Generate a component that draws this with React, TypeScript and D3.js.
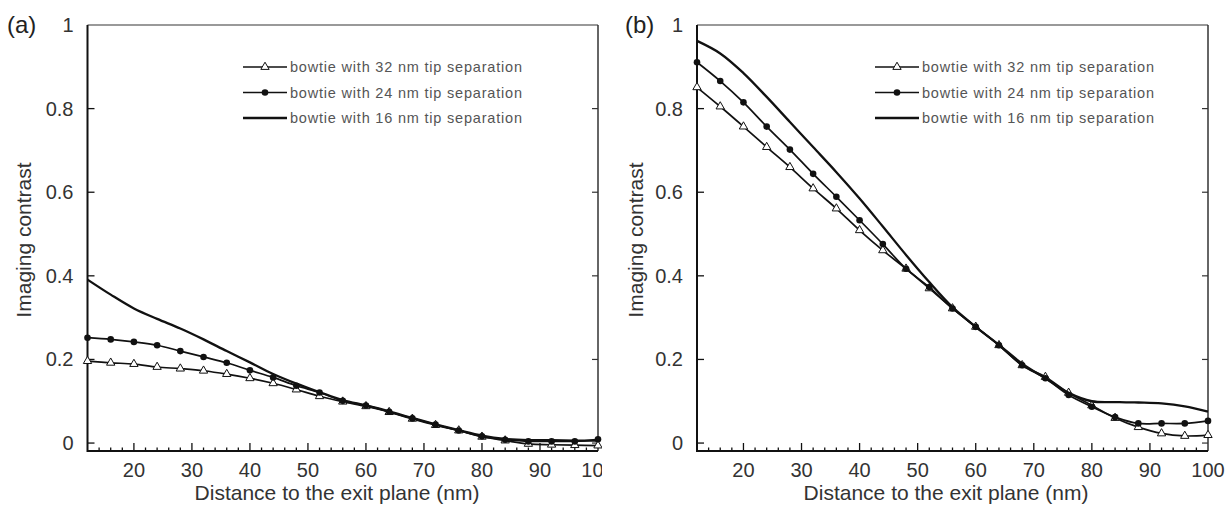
import * as d3 from "d3";
import React, { useEffect, useRef } from "react";

// distance to the exit plane (nm), one point every 4 nm
const distance = [12, 16, 20, 24, 28, 32, 36, 40, 44, 48, 52, 56, 60, 64, 68, 72, 76, 80, 84, 88, 92, 96, 100];

// panel (a)
const a32 = [0.196, 0.192, 0.189, 0.182, 0.178, 0.173, 0.165, 0.155, 0.143, 0.128, 0.112, 0.099, 0.088, 0.074, 0.058, 0.043, 0.030, 0.015, 0.006, -0.002, -0.004, -0.005, -0.006];
const a24 = [0.252, 0.248, 0.242, 0.234, 0.220, 0.206, 0.192, 0.174, 0.157, 0.137, 0.121, 0.101, 0.090, 0.075, 0.059, 0.044, 0.030, 0.016, 0.008, 0.004, 0.004, 0.004, 0.009];
const a16 = [0.391, 0.355, 0.322, 0.297, 0.274, 0.248, 0.220, 0.193, 0.165, 0.142, 0.122, 0.103, 0.090, 0.076, 0.060, 0.045, 0.031, 0.018, 0.010, 0.007, 0.007, 0.006, 0.006];

// panel (b)
const b32 = [0.851, 0.805, 0.757, 0.708, 0.660, 0.609, 0.561, 0.509, 0.461, 0.417, 0.370, 0.322, 0.278, 0.234, 0.186, 0.158, 0.120, 0.090, 0.060, 0.038, 0.023, 0.017, 0.019];
const b24 = [0.911, 0.866, 0.815, 0.757, 0.702, 0.644, 0.589, 0.533, 0.476, 0.417, 0.373, 0.322, 0.278, 0.234, 0.186, 0.155, 0.115, 0.087, 0.062, 0.047, 0.047, 0.047, 0.053];
const b16 = [0.962, 0.932, 0.885, 0.828, 0.768, 0.708, 0.648, 0.585, 0.518, 0.450, 0.385, 0.325, 0.278, 0.235, 0.190, 0.155, 0.120, 0.100, 0.098, 0.097, 0.095, 0.088, 0.075];

const seriesNames = [
  "bowtie with 32 nm tip separation",
  "bowtie with 24 nm tip separation",
  "bowtie with 16 nm tip separation",
];
const markers = ["triangle", "circle", "none"];

const xTicks = [20, 30, 40, 50, 60, 70, 80, 90, 100];
const yTicks = [0, 0.2, 0.4, 0.6, 0.8, 1];

const W = 1227;
const H = 505;
const font = "'Liberation Sans', Arial, sans-serif";

const panels = [
  { label: "(a)", labelX: 7, left: 87.5, right: 598, clipX: 0, clipW: 602, legendX: 243, yTitleX: 31, xTitleX: 337, series: [a32, a24, a16] },
  { label: "(b)", labelX: 625, left: 697, right: 1208, clipX: 604, clipW: W - 604, legendX: 875, yTitleX: 643, xTitleX: 946, series: [b32, b24, b16] },
];

const drawMarker = (g, type, x, y) => {
  if (type === "triangle") {
    g.append("path")
      .attr("d", d3.symbol(d3.symbolTriangle, 30)())
      .attr("transform", `translate(${x},${y})`)
      .attr("fill", "white")
      .attr("stroke", "#111")
      .attr("stroke-width", 1);
  } else if (type === "circle") {
    g.append("circle")
      .attr("cx", x).attr("cy", y).attr("r", 3.3)
      .attr("fill", "#111");
  }
};

const App = () => {
  const svgRef = useRef(null);

  useEffect(() => {
    const svg = d3.select(svgRef.current);
    svg.selectAll("*").remove();

    const top = 25;
    const bottom = 451;
    const yScale = d3.scaleLinear().domain([-0.019, 1]).range([bottom, top]);

    panels.forEach((p, pi) => {
      const clipId = `clip-${pi}`;
      svg.append("clipPath").attr("id", clipId)
        .append("rect").attr("x", p.clipX).attr("y", 0)
        .attr("width", p.clipW).attr("height", H);
      const g = svg.append("g").attr("clip-path", `url(#${clipId})`);

      const xScale = d3.scaleLinear().domain([12, 100]).range([p.left, p.right]);

      // frame
      g.append("line").attr("x1", p.left).attr("x2", p.right).attr("y1", top).attr("y2", top)
        .attr("stroke", "#777").attr("stroke-width", 1.5);
      g.append("line").attr("x1", p.right).attr("x2", p.right).attr("y1", top).attr("y2", bottom)
        .attr("stroke", "#333").attr("stroke-width", 1.5);
      g.append("line").attr("x1", p.left).attr("x2", p.left).attr("y1", top).attr("y2", bottom + 1)
        .attr("stroke", "#111").attr("stroke-width", 2);
      g.append("line").attr("x1", p.left).attr("x2", p.right).attr("y1", bottom).attr("y2", bottom)
        .attr("stroke", "#111").attr("stroke-width", 2);

      // y ticks (inside, both sides)
      yTicks.forEach(v => {
        const y = yScale(v);
        if (v < 1) {
          g.append("line").attr("x1", p.left).attr("x2", p.left + 7).attr("y1", y).attr("y2", y)
            .attr("stroke", "#111").attr("stroke-width", 1.3);
          g.append("line").attr("x1", p.right).attr("x2", p.right - 6).attr("y1", y).attr("y2", y)
            .attr("stroke", "#333").attr("stroke-width", 1.2);
        }
        g.append("text").attr("x", p.left - 14).attr("y", y).attr("dy", "0.35em")
          .attr("text-anchor", "end").attr("font-family", font).attr("font-size", 20)
          .attr("fill", "#333").text(String(v));
      });

      // x ticks: major every 10, minor every 2
      d3.range(14, 100, 2).forEach(v => {
        const major = v % 10 === 0;
        g.append("line").attr("x1", xScale(v)).attr("x2", xScale(v))
          .attr("y1", bottom).attr("y2", bottom - (major ? 8 : 3.5))
          .attr("stroke", "#111").attr("stroke-width", 1.3);
      });
      xTicks.forEach(v => {
        g.append("text").attr("x", xScale(v)).attr("y", 470).attr("dy", "0.35em")
          .attr("text-anchor", "middle").attr("font-family", font).attr("font-size", 20)
          .attr("fill", "#333").text(String(v));
      });

      // curves
      const line = d3.line()
        .x((d, i) => xScale(distance[i]))
        .y(d => yScale(d))
        .curve(d3.curveCatmullRom.alpha(0.5));
      p.series.forEach((vals, si) => {
        g.append("path").attr("d", line(vals)).attr("fill", "none")
          .attr("stroke", "#111").attr("stroke-width", si === 2 ? 2.3 : 1.7);
        vals.forEach((v, i) => drawMarker(g, markers[si], xScale(distance[i]), yScale(v)));
      });

      // legend
      seriesNames.forEach((name, si) => {
        const y = 67 + si * 25.5;
        g.append("line").attr("x1", p.legendX).attr("x2", p.legendX + 44).attr("y1", y).attr("y2", y)
          .attr("stroke", "#111").attr("stroke-width", si === 2 ? 2.4 : 1.3);
        drawMarker(g, markers[si], p.legendX + 22, y);
        g.append("text").attr("x", p.legendX + 47).attr("y", y).attr("dy", "0.35em")
          .attr("font-family", font).attr("font-size", 14.5).attr("letter-spacing", 0.8)
          .attr("fill", "#555").text(name);
      });

      // titles
      g.append("text").attr("x", p.labelX).attr("y", 33)
        .attr("font-family", font).attr("font-size", 24).attr("fill", "#222").text(p.label);
      g.append("text").attr("x", p.xTitleX).attr("y", 500).attr("text-anchor", "middle")
        .attr("font-family", font).attr("font-size", 21).attr("fill", "#333")
        .text("Distance to the exit plane (nm)");
      g.append("text").attr("transform", `translate(${p.yTitleX},240) rotate(-90)`)
        .attr("text-anchor", "middle").attr("font-family", font).attr("font-size", 21)
        .attr("fill", "#333").text("Imaging contrast");
    });
  }, []);

  return (
    <svg ref={svgRef} width={W} height={H}
      style={{ position: "absolute", left: 0, top: 0, background: "white" }} />
  );
};

export default App;
